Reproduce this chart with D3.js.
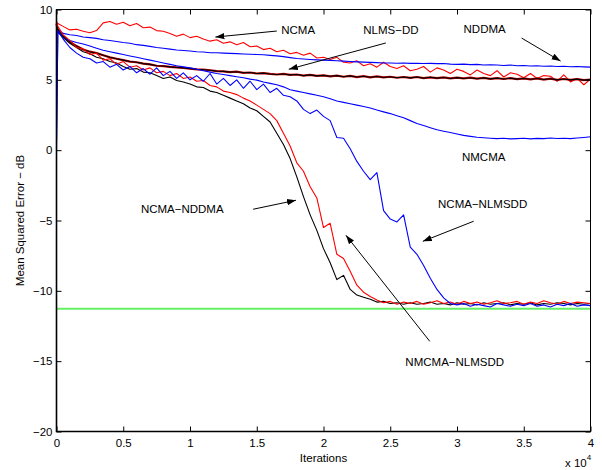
<!DOCTYPE html>
<html>
<head>
<meta charset="utf-8">
<script src="https://cdn.jsdelivr.net/npm/d3@7"></script>
<style>
  body { margin: 0; background: #fff; }
  svg text { font-family: "Liberation Sans", Arial, Helvetica, sans-serif; }
</style>
</head>
<body>
<div id="chart"></div>
<script>
// iterations: 0, 100, then every 500 up to 40000
const iterations = [0, 100].concat(d3.range(500, 40001, 500));

// MSE curves (dB), one value per iteration above
const ncma = [9.1, 9.0,
  8.8, 8.55, 8.6, 8.45, 8.35, 8.5, 9.05, 9.15, 8.95, 9.1,
  8.85, 9.0, 8.7, 8.75, 8.5, 8.45, 8.3, 8.1, 8.25, 8.0,
  8.1, 7.9, 7.75, 7.85, 7.6, 7.7, 7.5, 7.65, 7.35, 7.4,
  7.15, 7.25, 7.0, 7.1, 6.85, 6.95, 6.75, 6.9, 6.55, 6.6,
  6.45, 6.6, 6.25, 6.2, 6.35, 6.0, 6.15, 5.9, 6.25, 5.95,
  5.8, 6.0, 5.65, 5.75, 5.95, 5.55, 5.85, 5.7, 5.45, 5.75,
  5.6, 5.35, 5.7, 5.45, 5.3, 5.65, 5.2, 5.5, 5.4, 5.15,
  5.45, 5.1, 5.3, 5.25, 4.9, 5.35, 4.85, 5.1, 4.65, 5.05];

const nddma = [8.8, 8.6,
  8.3, 8.2, 8.15, 8.05, 8.0, 7.95, 7.85, 7.8, 7.72, 7.65,
  7.6, 7.5, 7.45, 7.38, 7.3, 7.25, 7.18, 7.12, 7.08, 7.05,
  7.0, 6.98, 6.93, 6.92, 6.9, 6.88, 6.86, 6.84, 6.82, 6.8,
  6.78, 6.74, 6.7, 6.65, 6.58, 6.52, 6.48, 6.45, 6.42, 6.4,
  6.38, 6.36, 6.33, 6.3, 6.28, 6.26, 6.24, 6.22, 6.2, 6.2,
  6.18, 6.2, 6.17, 6.18, 6.16, 6.17, 6.15, 6.16, 6.12, 6.1,
  6.12, 6.08, 6.1, 6.05, 6.07, 6.05, 6.02, 6.05, 6.0, 6.02,
  5.98, 6.0, 5.97, 5.98, 5.95, 5.97, 5.93, 5.95, 5.92, 5.9];

const nlmsdd = [9.0, 8.5,
  8.1, 7.7, 7.4, 7.15, 7.0, 6.9, 6.75, 6.6, 6.5, 6.4,
  6.3, 6.25, 6.15, 6.1, 6.0, 5.98, 5.92, 5.88, 5.85, 5.8,
  5.75, 5.72, 5.68, 5.62, 5.6, 5.55, 5.58, 5.5, 5.52, 5.45,
  5.48, 5.42, 5.38, 5.42, 5.35, 5.38, 5.3, 5.35, 5.28, 5.32,
  5.25, 5.3, 5.22, 5.28, 5.2, 5.26, 5.18, 5.24, 5.17, 5.22,
  5.15, 5.2, 5.14, 5.2, 5.12, 5.18, 5.12, 5.17, 5.1, 5.16,
  5.1, 5.15, 5.08, 5.14, 5.07, 5.12, 5.06, 5.12, 5.05, 5.1,
  5.04, 5.1, 5.02, 5.08, 5.0, 5.06, 5.0, 5.05, 4.98, 5.02];

const nmcma = [0.0, 8.4,
  8.0, 7.8, 7.65, 7.55, 7.4, 7.25, 7.1, 7.0, 6.9, 6.8,
  6.7, 6.6, 6.5, 6.4, 6.3, 6.2, 6.1, 6.0, 5.92, 5.85,
  5.75, 5.65, 5.55, 5.45, 5.38, 5.3, 5.22, 5.15, 5.05, 4.98,
  4.85, 4.75, 4.65, 4.5, 4.3, 4.2, 4.1, 4.0, 3.9, 3.8,
  3.65, 3.5, 3.4, 3.3, 3.2, 3.1, 3.0, 2.85, 2.72, 2.6,
  2.45, 2.3, 2.1, 1.9, 1.75, 1.6, 1.45, 1.35, 1.25, 1.15,
  1.05, 0.98, 0.92, 0.88, 0.85, 0.82, 0.85, 0.8, 0.82, 0.85,
  0.8, 0.84, 0.82, 0.86, 0.83, 0.85, 0.82, 0.86, 0.9, 0.95];

const ncmaNddma = [9.0, 8.6,
  8.0, 7.6, 7.3, 7.0, 6.85, 6.6, 6.5, 6.3, 6.2, 5.95,
  5.75, 5.8, 5.55, 5.5, 5.3, 5.1, 5.2, 4.95, 4.85, 4.7,
  4.5, 4.45, 4.2, 4.1, 3.9, 3.7, 3.5, 3.3, 3.0, 2.8,
  2.4, 2.0, 1.2, 0.4, -0.6, -1.9, -3.3, -4.6, -5.7, -7.0,
  -8.0, -9.2, -8.9, -9.9, -10.3, -10.45, -10.6, -10.8, -10.75, -10.9,
  -10.85, -10.95, -10.85, -10.95, -10.9, -10.8, -10.95, -10.9, -11.0, -10.85,
  -10.95, -10.9, -11.0, -10.85, -10.95, -10.9, -10.85, -11.0, -10.9, -10.95,
  -10.85, -11.0, -10.9, -10.95, -10.85, -10.9, -11.0, -10.9, -10.95, -10.9];

const nmcmaNlmsdd = [9.2, 8.8,
  8.2, 7.8, 7.3, 7.2, 6.8, 6.9, 6.4, 6.5, 6.1, 6.3,
  5.9, 6.0, 5.7, 5.85, 5.5, 5.6, 5.3, 5.45, 5.1, 5.2,
  4.9, 4.95, 4.6, 4.5, 4.2, 4.1, 3.95, 3.7, 3.5, 3.2,
  2.9, 2.6, 2.1, 1.2, 0.3, -0.9, -1.5, -2.6, -3.4, -5.5,
  -5.2, -7.4, -7.7, -8.6, -9.6, -10.1, -10.4, -10.65, -10.85, -10.75,
  -10.95, -10.8, -10.9, -10.75, -10.95, -10.85, -10.7, -10.9, -10.8, -10.95,
  -10.75, -10.9, -10.8, -10.95, -10.85, -10.7, -10.9, -10.85, -10.75, -10.95,
  -10.8, -10.9, -10.7, -10.85, -10.95, -10.75, -10.9, -10.8, -10.85, -10.9];

const ncmaNlmsdd = [0.5, 8.5,
  7.9, 7.3, 6.9, 6.6, 6.5, 6.2, 6.3, 5.9, 6.1, 5.7,
  5.95, 5.5, 5.8, 5.4, 5.85, 5.3, 5.6, 5.1, 5.5, 5.0,
  5.3, 4.9, 5.45, 4.7, 5.1, 4.6, 5.0, 4.4, 4.9, 4.3,
  4.7, 4.1, 4.4, 3.9, 3.8, 3.5, 2.9, 2.6, 2.85, 2.4,
  2.1, 0.9, 0.85, 0.1, -0.8, -1.5, -2.1, -1.6, -4.3, -4.9,
  -5.1, -4.6, -6.9, -7.4, -8.2, -9.1, -9.9, -10.5, -10.9, -11.0,
  -10.9, -11.1, -10.95, -11.05, -11.15, -10.9, -11.0, -11.1, -10.95, -11.05,
  -10.9, -11.1, -11.0, -11.15, -10.95, -11.05, -10.9, -11.1, -11.0, -11.05];

// MMSE floor (green line)
const mmseLevel = -11.27;

const xTicks = [0, 5000, 10000, 15000, 20000, 25000, 30000, 35000, 40000];
const yTicks = [-20, -15, -10, -5, 0, 5, 10];

// labels with arrows: text position and arrow tail/head, in data units
const labels = [
  { text: "NCMA", x: 18100, y: 8.26, arrow: [16500, 8.47, 11900, 8.04] },
  { text: "NLMS\u2212DD", x: 25050, y: 8.26, arrow: [24670, 7.62, 17400, 5.75] },
  { text: "NDDMA", x: 32070, y: 8.33, arrow: [34840, 7.97, 37760, 6.33] },
  { text: "NMCMA", x: 32000, y: -0.78, arrow: null },
  { text: "NCMA\u2212NLMSDD", x: 31920, y: -4.13, arrow: [31250, -5.05, 27440, -6.48] },
  { text: "NCMA\u2212NDDMA", x: 9420, y: -4.48, arrow: [14730, -4.2, 17940, -3.56] },
  { text: "NMCMA\u2212NLMSDD", x: 29830, y: -15.37, arrow: [27960, -13.59, 21680, -6.05] }
];

const width = 602, height = 470;

const svg = d3.select("#chart")
  .append("svg")
  .attr("width", width)
  .attr("height", height);

const x = d3.scaleLinear().domain([0, 40000]).range([56.5, 590.5]);
const y = d3.scaleLinear().domain([-20, 10]).range([431.5, 9.5]);

svg.append("defs").append("marker")
  .attr("id", "head")
  .attr("viewBox", "0 0 10 10")
  .attr("refX", 10)
  .attr("refY", 5)
  .attr("markerWidth", 9)
  .attr("markerHeight", 9)
  .attr("markerUnits", "userSpaceOnUse")
  .attr("orient", "auto")
  .append("path")
  .attr("d", "M0,1.5 L10,5 L0,8.5 Z")
  .attr("fill", "#000");

// curves, in plotting order
const series = [
  { values: ncma, color: "#ff0000" },
  { values: nddma, color: "#0000ff" },
  { values: nlmsdd, color: "#000000", under: "#c00000" },
  { values: nmcma, color: "#0000ff" },
  { values: ncmaNddma, color: "#000000" },
  { values: nmcmaNlmsdd, color: "#ff0000" },
  { values: ncmaNlmsdd, color: "#0000ff" }
];

const line = d3.line()
  .x((d, i) => x(iterations[i]))
  .y(d => y(d));

series.forEach(s => {
  if (s.under) {
    svg.append("path")
      .datum(s.values)
      .attr("fill", "none")
      .attr("stroke", s.under)
      .attr("stroke-width", 2.2)
      .attr("d", line);
  }
  svg.append("path")
    .datum(s.values)
    .attr("fill", "none")
    .attr("stroke", s.color)
    .attr("stroke-width", 1.1)
    .attr("stroke-linejoin", "round")
    .attr("d", line);
});

svg.append("line")
  .attr("x1", x(0))
  .attr("x2", x(40000))
  .attr("y1", y(mmseLevel))
  .attr("y2", y(mmseLevel))
  .attr("stroke", "#66ee66")
  .attr("stroke-width", 2);

// axes with inward ticks on all four sides
const fontSize = "11.5px";

const gx = svg.append("g")
  .attr("transform", `translate(0,${y(-20)})`)
  .call(d3.axisBottom(x).tickValues(xTicks).tickSize(-5).tickPadding(7)
    .tickFormat(d => d / 10000));
const gy = svg.append("g")
  .attr("transform", `translate(${x(0)},0)`)
  .call(d3.axisLeft(y).tickValues(yTicks).tickSize(-5).tickPadding(4));
const gt = svg.append("g")
  .attr("transform", `translate(0,${y(10)})`)
  .call(d3.axisTop(x).tickValues(xTicks).tickSize(-5).tickFormat(""));
const gr = svg.append("g")
  .attr("transform", `translate(${x(40000)},0)`)
  .call(d3.axisRight(y).tickValues(yTicks).tickSize(-5).tickFormat(""));

[gx, gy, gt, gr].forEach(g => {
  g.select(".domain").remove();
  g.selectAll("text").style("font-size", fontSize).attr("fill", "#000");
});

svg.append("rect")
  .attr("x", x(0))
  .attr("y", y(10))
  .attr("width", x(40000) - x(0))
  .attr("height", y(-20) - y(10))
  .attr("fill", "none")
  .attr("stroke", "#000")
  .attr("stroke-width", 1);

svg.append("path")
  .attr("d", `M${x(0)},${y(10)} V${y(-20)} H${x(40000)}`)
  .attr("fill", "none")
  .attr("stroke", "#000")
  .attr("stroke-width", 1.6);

// axis titles
svg.append("text")
  .attr("x", (x(0) + x(40000)) / 2)
  .attr("y", 462)
  .attr("text-anchor", "middle")
  .style("font-size", fontSize)
  .text("Iterations");

const expo = svg.append("text")
  .attr("x", 565)
  .attr("y", 467)
  .style("font-size", fontSize)
  .text("x 10");
expo.append("tspan")
  .attr("dy", -7)
  .style("font-size", "8px")
  .text("4");

svg.append("text")
  .attr("transform", `translate(24,${(y(10) + y(-20)) / 2}) rotate(-90)`)
  .attr("text-anchor", "middle")
  .style("font-size", fontSize)
  .text("Mean Squared Error \u2212 dB");

// curve labels and arrows
labels.forEach(l => {
  svg.append("text")
    .attr("x", x(l.x))
    .attr("y", y(l.y))
    .attr("text-anchor", "middle")
    .style("font-size", fontSize)
    .text(l.text);
  if (l.arrow) {
    svg.append("line")
      .attr("x1", x(l.arrow[0]))
      .attr("y1", y(l.arrow[1]))
      .attr("x2", x(l.arrow[2]))
      .attr("y2", y(l.arrow[3]))
      .attr("stroke", "#000")
      .attr("stroke-width", 1)
      .attr("marker-end", "url(#head)");
  }
});
</script>
</body>
</html>
